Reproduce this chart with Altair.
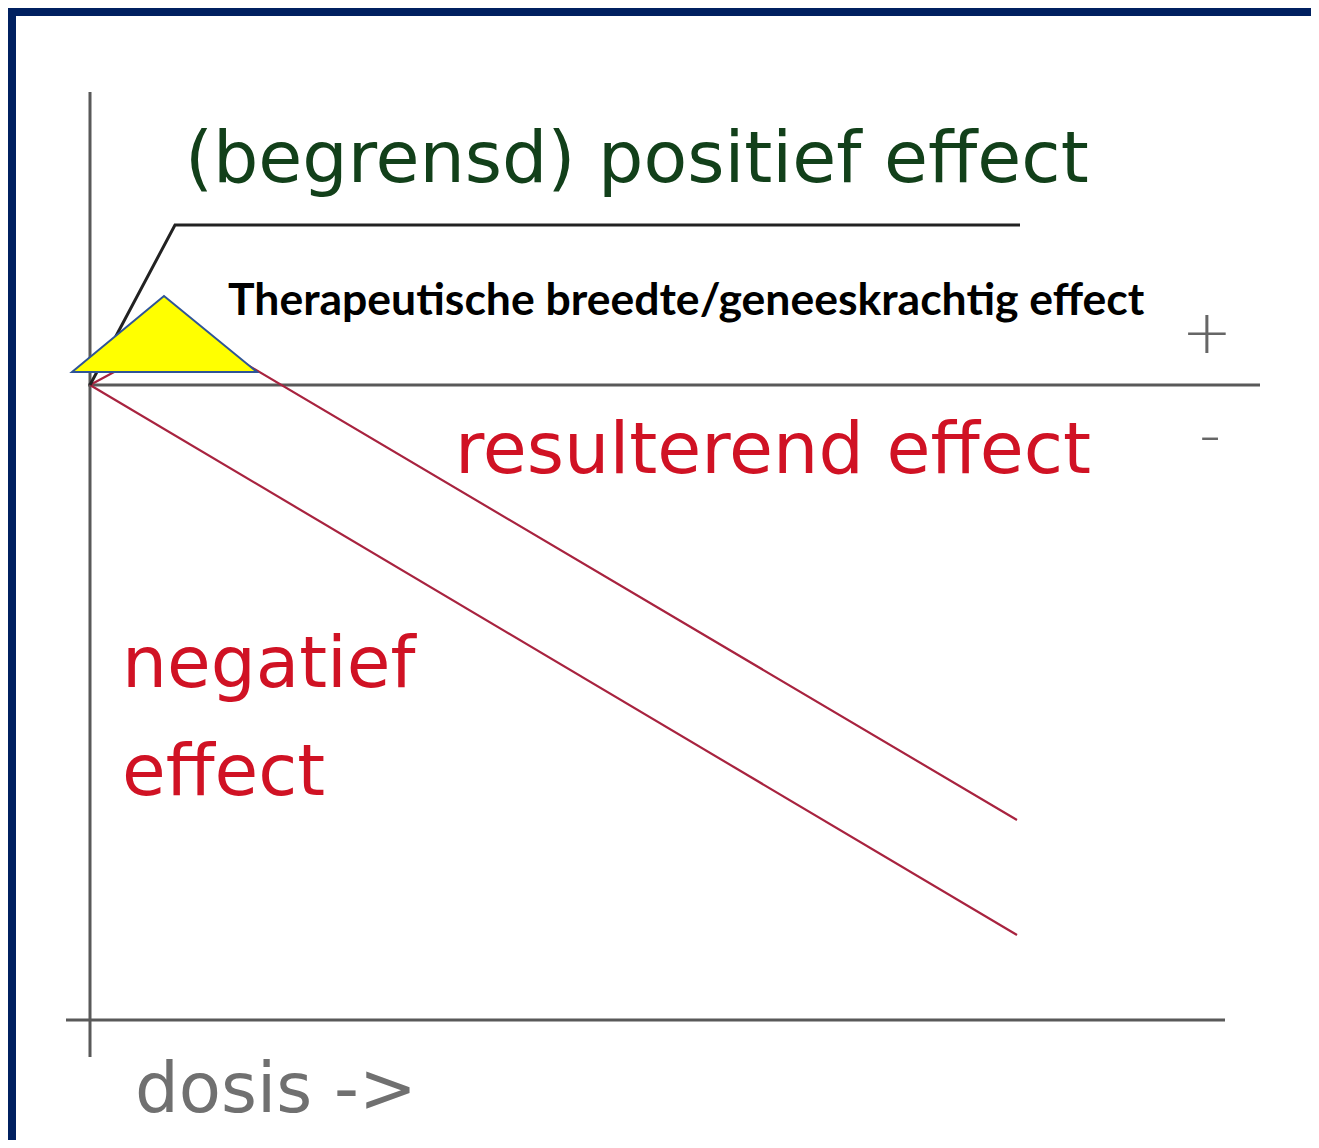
import altair as alt
import pandas as pd

# ---- data (dose units along x, effect units along y) ----
pos_dose = [0.0, 0.85, 9.30]
pos_eff = [0.0, 1.60, 1.60]

neg_dose = [0.0, 9.27]
neg_eff = [0.0, -5.50]

res_dose = [0.0, 1.00, 9.27]
res_eff = [0.0, 0.54, -4.35]

tri_dose = [-0.18, 0.74, 1.67]
tri_eff = [0.13, 0.89, 0.13]
tri_base = 0.13

zero_axis_dose = [-0.02, 11.70]
vert_axis_eff = [2.93, -6.72]
bottom_axis_dose = [-0.24, 11.35]
bottom_axis_eff = -6.35

labels = ["(begrensd) positief effect", "Therapeutische breedte/geneeskrachtig effect",
          "resulterend effect", "negatief", "effect", "dosis ->"]
label_dose = [0.95, 1.38, 3.65, 0.32, 0.32, 0.45]
label_eff = [2.03, 0.70, -0.88, -3.02, -4.10, -7.27]

sign_text = ["+", "-"]
sign_dose = [11.17, 11.20]
sign_eff = [0.50, -0.52]

W, H = 1303, 1132
xs = alt.Scale(domain=[-0.82, 12.21], nice=False, zero=False)
ys = alt.Scale(domain=[-7.55, 3.77], nice=False, zero=False)
X = lambda f: alt.X(f, scale=xs, axis=None)
Y = lambda f: alt.Y(f, scale=ys, axis=None)

def line_df(d, e):
    return pd.DataFrame({"d": d, "e": e, "o": list(range(len(d)))})

axis_col = "#595959"
red_line = "#a8233f"

zero_axis = alt.Chart(line_df(zero_axis_dose, [0, 0])).mark_line(
    color=axis_col, strokeWidth=3).encode(x=X("d:Q"), y=Y("e:Q"), order="o:Q")
vert_axis = alt.Chart(line_df([0, 0], vert_axis_eff)).mark_line(
    color=axis_col, strokeWidth=3).encode(x=X("d:Q"), y=Y("e:Q"), order="o:Q")
bottom_axis = alt.Chart(line_df(bottom_axis_dose, [bottom_axis_eff] * 2)).mark_line(
    color=axis_col, strokeWidth=3).encode(x=X("d:Q"), y=Y("e:Q"), order="o:Q")

neg_line = alt.Chart(line_df(neg_dose, neg_eff)).mark_line(
    color=red_line, strokeWidth=2.2).encode(x=X("d:Q"), y=Y("e:Q"), order="o:Q")
res_line = alt.Chart(line_df(res_dose, res_eff)).mark_line(
    color=red_line, strokeWidth=2.2).encode(x=X("d:Q"), y=Y("e:Q"), order="o:Q")
pos_line = alt.Chart(line_df(pos_dose, pos_eff)).mark_line(
    color="#222222", strokeWidth=3).encode(x=X("d:Q"), y=Y("e:Q"), order="o:Q")

tri_df = pd.DataFrame({"d": tri_dose, "e": tri_eff, "b": [tri_base] * 3})
triangle = alt.Chart(tri_df).mark_area(
    color="#ffff00", fill="#ffff00", stroke="#2f5597", strokeWidth=2, opacity=1
).encode(x=X("d:Q"), y=Y("e:Q"), y2="b:Q")

lab_df = pd.DataFrame({"t": labels, "d": label_dose, "e": label_eff})

def text_layer(i, **kw):
    return alt.Chart(lab_df.iloc[[i]]).mark_text(align="left", baseline="alphabetic", **kw).encode(
        x=X("d:Q"), y=Y("e:Q"), text="t:N")

t_green = text_layer(0, font="DejaVu Sans", fontSize=71.5, color="#12401a")
t_ther = text_layer(1, font="Lato", fontWeight="bold", fontSize=44.5, color="#000000")
t_res = text_layer(2, font="DejaVu Sans", fontSize=71.5, color="#d01224")
t_neg = text_layer(3, font="DejaVu Sans", fontSize=71, color="#d01224")
t_eff = text_layer(4, font="DejaVu Sans", fontSize=71, color="#d01224")
t_dos = text_layer(5, font="DejaVu Sans", fontSize=69, color="#707070")

sign_df = pd.DataFrame({"t": sign_text, "d": sign_dose, "e": sign_eff})
signs = alt.Chart(sign_df).mark_text(align="center", baseline="middle", font="DejaVu Sans",
                                     fontSize=60, color="#666666", fontWeight=300).encode(
    x=X("d:Q"), y=Y("e:Q"), text="t:N")

navy = "#002060"
border_left = alt.Chart(pd.DataFrame({"k": [0]})).mark_rule(color=navy, strokeWidth=8).encode(
    x=alt.value(4), y=alt.value(0), y2=alt.value(H))
border_top = alt.Chart(pd.DataFrame({"k": [0]})).mark_rule(color=navy, strokeWidth=8).encode(
    y=alt.value(4), x=alt.value(0), x2=alt.value(W))

chart = alt.layer(
    zero_axis, vert_axis, bottom_axis, neg_line, res_line, pos_line, triangle,
    t_green, t_ther, t_res, t_neg, t_eff, t_dos, signs, border_left, border_top
).properties(
    width=W, height=H, padding=0, background="white",
    autosize=alt.AutoSizeParams(type="none")
).configure_view(stroke=None)

chart.save("out.html", embed_options={"renderer": "svg", "actions": False})
